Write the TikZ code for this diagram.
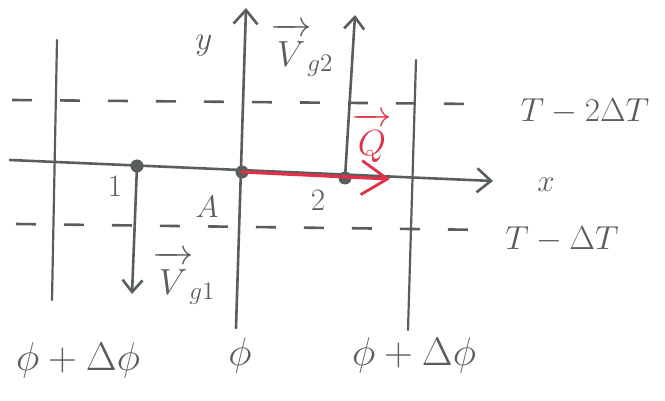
\documentclass[tikz,border=0pt]{standalone}
\usepackage{graphicx}
\usetikzlibrary{arrows.meta}
\definecolor{pen}{RGB}{88,94,92}
\definecolor{redpen}{RGB}{226,48,72}
\newcommand{\Lbig}[1]{\scalebox{1.93}{$#1$}}
\newcommand{\Lmid}[1]{\scalebox{1.6}{$#1$}}
\newcommand{\Lvec}[1]{\scalebox{1.75}{$#1$}}
\newcommand{\Lsmall}[1]{\scalebox{1.5}{$#1$}}
\newcommand{\Larr}[1]{\overrightarrow{\,#1\rule{0pt}{0.85em}\,}}
\begin{document}
\begin{tikzpicture}[x=1pt,y=-1pt,
  pencil/.style={draw=pen, line width=2.6pt, line cap=round},
  thin line/.style={draw=pen, line width=2.2pt, line cap=round},
  dashline/.style={draw=pen, line width=2.6pt, dash pattern=on 20pt off 28pt},
  axis/.style={pencil, -{Straight Barb[length=14pt,width=24pt,line width=2.6pt]}},
  vec/.style={pencil, -{Straight Barb[length=12pt,width=20pt,line width=2.6pt]}},
  qvec/.style={draw=redpen, line width=3.2pt, line cap=round, -{Straight Barb[length=26pt,width=34pt,line width=2.8pt]}},
  dot/.style={circle, fill=pen, inner sep=0pt, minimum size=13pt},
  lab/.style={text=pen, inner sep=0pt, font=\fontsize{20.74}{24}\selectfont}]
\useasboundingbox (0,0) rectangle (665,401);
\fill[white] (0,0) rectangle (665,401);

% grid lines
\coordinate (l1) at (57,40);  \coordinate (l2) at (52,300);
\coordinate (r1) at (416,60); \coordinate (r2) at (408,330);
\draw[thin line] (l1) -- (l2);
\draw[thin line] (r1) -- (r2);

% dashed lines
\coordinate (t1) at (12,100); \coordinate (t2) at (478,104);
\coordinate (b1) at (16,224); \coordinate (b2) at (490,230);
\draw[dashline] (t1) -- (t2);
\draw[dashline] (b1) -- (b2);

% points
\node[dot] (p1) at (137,166) {};
\node[dot] (pA) at (242,172) {};
\node[dot] (p2) at (345,178) {};

% axes
\coordinate (xs) at (10,160); \coordinate (xe) at (493,181);
\coordinate (ys) at (236,328); \coordinate (ye) at (246,8);
\draw[axis] (xs) -- (xe);
\draw[axis] (ys) -- (ye);

% vectors
\coordinate (v1) at (132,294);
\coordinate (v2) at (355,15);
\coordinate (qe) at (390,179);
\draw[vec] (p1.center) -- (v1);
\draw[vec] (p2.center) -- (v2);
\draw[qvec] (pA.center) -- (qe);

% labels
\node[lab] (ly) at (204,46) {\Lmid{y}};
\node[lab] (lx) at (546,185) {\Lsmall{x}};
\node[lab] (l1n) at (115,186) {\Lsmall{1}};
\node[lab] (lAn) at (207,207) {\Lsmall{A}};
\node[lab] (l2n) at (318,200) {\Lsmall{2}};
\node[lab] (lvg2) at (302,50) {\Lvec{\Larr{V}_{\!g2}}};
\node[lab] (lvg1) at (184,278) {\Lvec{\Larr{V}_{\!g1}}};
\node[lab, text=redpen] (lq) at (372,138) {\Lvec{\Larr{Q}}};
\node[lab] (lt2) at (585,112) {\Lmid{T - 2\Delta T}};
\node[lab] (lt1) at (562,240) {\Lmid{T - \Delta T}};
\node[lab] (f1) at (78,360) {\Lbig{\phi+\Delta\phi}};
\node[lab] (f2) at (240,355) {\Lbig{\phi}};
\node[lab] (f3) at (414,355) {\Lbig{\phi+\Delta\phi}};
\end{tikzpicture}
\end{document}
